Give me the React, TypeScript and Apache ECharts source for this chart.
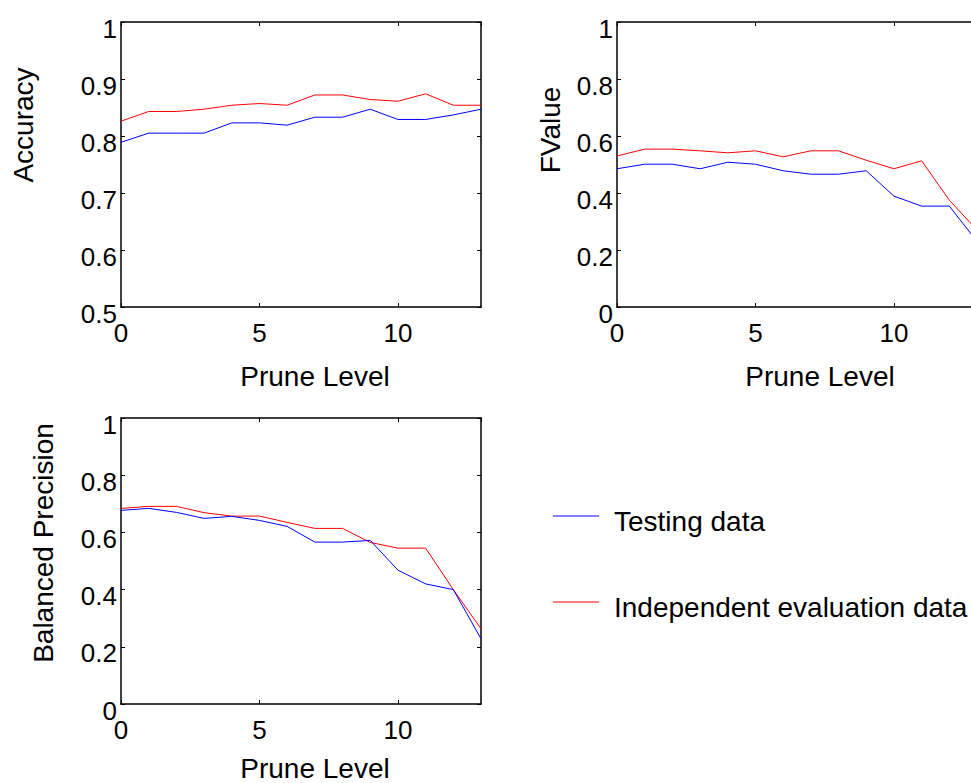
import React, { useEffect, useRef } from "react";
import * as echarts from "echarts";

const pruneLevels = [0, 1, 2, 3, 4, 5, 6, 7, 8, 9, 10, 11, 12, 13];
const accuracyTesting = [0.789, 0.805, 0.805, 0.805, 0.823, 0.823, 0.819, 0.833, 0.833, 0.847, 0.829, 0.829, 0.837, 0.847];
const accuracyIndependent = [0.826, 0.843, 0.843, 0.847, 0.854, 0.857, 0.854, 0.872, 0.872, 0.864, 0.861, 0.874, 0.854, 0.854];
const fvalueTesting = [0.485, 0.501, 0.501, 0.485, 0.508, 0.501, 0.478, 0.466, 0.466, 0.478, 0.389, 0.354, 0.354, 0.23];
const fvalueIndependent = [0.53, 0.554, 0.554, 0.548, 0.541, 0.548, 0.527, 0.548, 0.548, 0.515, 0.485, 0.513, 0.375, 0.27];
const bpTesting = [0.677, 0.684, 0.67, 0.649, 0.656, 0.642, 0.621, 0.566, 0.566, 0.572, 0.468, 0.42, 0.4, 0.228];
const bpIndependent = [0.684, 0.691, 0.691, 0.669, 0.657, 0.657, 0.635, 0.614, 0.614, 0.565, 0.545, 0.545, 0.4, 0.263];
const seriesNames = ["Testing data", "Independent evaluation data"];
const yLabels = ["Accuracy", "FValue", "Balanced Precision"];
const xLabel = "Prune Level";

const FONT = "'Liberation Sans', Arial, Helvetica, sans-serif";
const BLUE = "#0000ff";
const RED = "#ff0000";

export default function App() {
  const ref = useRef<HTMLDivElement>(null);

  useEffect(() => {
    if (!ref.current) return;
    const chart = echarts.init(ref.current, null, { renderer: "svg" });

    const grids = [
      { left: 121, top: 22, width: 360, height: 285 },
      { left: 617, top: 22, width: 360, height: 285 },
      { left: 121, top: 418, width: 360, height: 286 },
    ];
    const yRanges = [
      { min: 0.5, max: 1, interval: 0.1 },
      { min: 0, max: 1, interval: 0.2 },
      { min: 0, max: 1, interval: 0.2 },
    ];
    const data = [
      [accuracyTesting, accuracyIndependent],
      [fvalueTesting, fvalueIndependent],
      [bpTesting, bpIndependent],
    ];

    const axisLine = { show: true, onZero: false, lineStyle: { color: "#000", width: 1.5 } };
    const axisTick = { show: true, inside: true, length: 4, lineStyle: { color: "#000", width: 1 } };

    const xAxis: any[] = [];
    const yAxis: any[] = [];
    const series: any[] = [];

    grids.forEach((_, g) => {
      xAxis.push({
        type: "value", gridIndex: g, min: 0, max: 13, interval: 5, position: "bottom",
        axisLine, axisTick, splitLine: { show: false },
        axisLabel: { show: true, fontSize: 26, color: "#000", fontFamily: FONT, margin: 13, showMaxLabel: false },
      });
      xAxis.push({
        type: "value", gridIndex: g, min: 0, max: 13, interval: 5, position: "top",
        axisLine, axisTick, splitLine: { show: false }, axisLabel: { show: false },
      });
      const yr = yRanges[g];
      yAxis.push({
        type: "value", gridIndex: g, min: yr.min, max: yr.max, interval: yr.interval, position: "left",
        axisLine, axisTick, splitLine: { show: false },
        axisLabel: {
          show: true, fontSize: 26, color: "#000", fontFamily: FONT, margin: 4,
          formatter: (v: number) => `{a|${Math.round(v * 10) / 10}}`,
          rich: { a: { fontSize: 26, color: "#000", fontFamily: FONT, padding: [13, 0, 0, 0] } },
        },
      });
      yAxis.push({
        type: "value", gridIndex: g, min: yr.min, max: yr.max, interval: yr.interval, position: "right",
        axisLine, axisTick, splitLine: { show: false }, axisLabel: { show: false },
      });
      [BLUE, RED].forEach((color, s) => {
        series.push({
          type: "line",
          name: seriesNames[s],
          xAxisIndex: g * 2,
          yAxisIndex: g * 2,
          data: data[g][s].map((v, i) => [pruneLevels[i], v]),
          symbol: "none",
          showSymbol: false,
          color,
          lineStyle: { color, width: 1 },
          z: s === 0 ? 3 : 2,
        });
      });
    });

    const textStyle = { fontSize: 28, fill: "#000", fontFamily: FONT, align: "center", verticalAlign: "middle" };
    const graphic = [
      { type: "text", x: 23, y: 125, rotation: Math.PI / 2, style: { ...textStyle, text: yLabels[0] } },
      { type: "text", x: 550, y: 130, rotation: Math.PI / 2, style: { ...textStyle, text: yLabels[1] } },
      { type: "text", x: 43, y: 543, rotation: Math.PI / 2, style: { ...textStyle, text: yLabels[2] } },
      { type: "text", x: 315, y: 376, style: { ...textStyle, text: xLabel } },
      { type: "text", x: 820, y: 376, style: { ...textStyle, text: xLabel } },
      { type: "text", x: 315, y: 768, style: { ...textStyle, text: xLabel } },
    ];

    const legendBase = {
      orient: "vertical",
      left: 553,
      padding: 0,
      itemWidth: 46,
      itemHeight: 1,
      icon: "rect",
      selectedMode: false,
      formatter: (name: string) => `{a|${name}}`,
      textStyle: {
        rich: { a: { fontSize: 28, color: "#000", fontFamily: FONT, padding: [10, 0, 0, 10] } },
      },
    };

    chart.setOption({
      animation: false,
      backgroundColor: "#fff",
      grid: grids.map((g) => ({ ...g, containLabel: false })),
      xAxis,
      yAxis,
      series,
      graphic,
      legend: [
        { ...legendBase, data: [seriesNames[0]], top: 507 },
        { ...legendBase, data: [seriesNames[1]], top: 593 },
      ],
    });

    return () => chart.dispose();
  }, []);

  return (
    <div style={{ position: "fixed", left: 0, top: 0, width: "100vw", height: "100vh", overflow: "hidden", background: "#fff" }}>
      <div ref={ref} style={{ width: 1010, height: 783 }} />
    </div>
  );
}
